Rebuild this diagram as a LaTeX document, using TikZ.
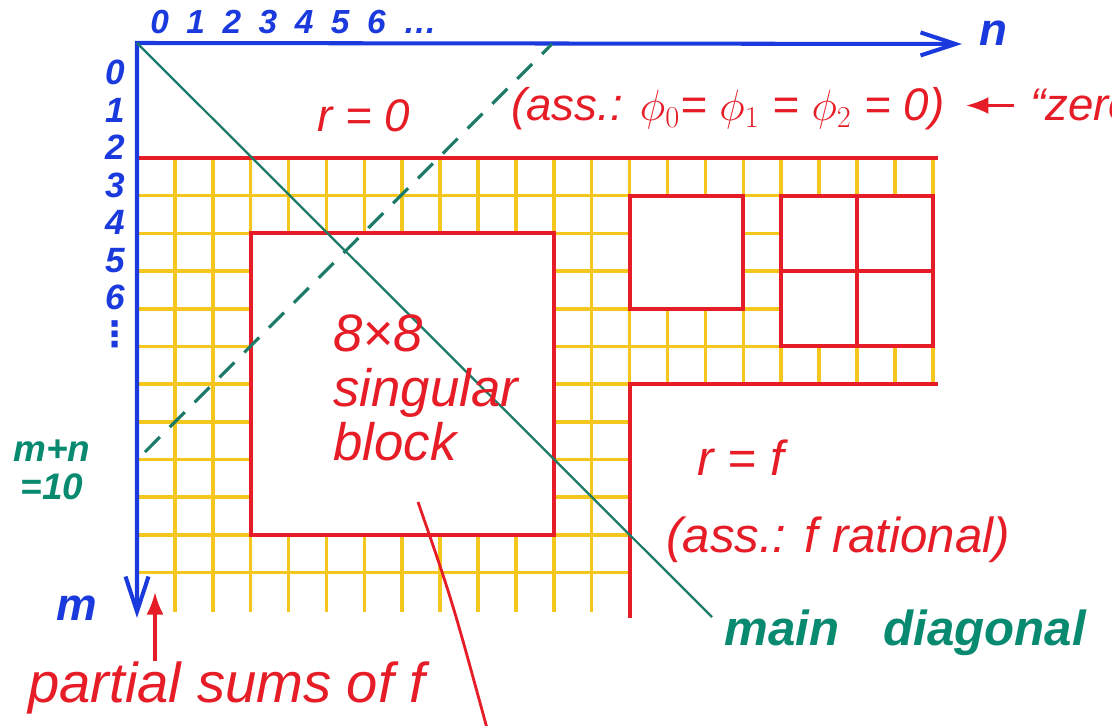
\documentclass[tikz,border=0pt]{standalone}
\usepackage{fontspec}
\setmainfont{Liberation Sans}
\newfontfamily\symfont{DejaVu Sans}
\usetikzlibrary{arrows.meta,positioning}

\definecolor{penblue}{RGB}{26,58,222}
\definecolor{penred}{RGB}{230,28,38}
\definecolor{pengold}{RGB}{244,198,30}
\definecolor{diagteal}{RGB}{28,122,104}
\definecolor{textteal}{RGB}{8,138,112}

\newcommand{\handfont}[2]{\fontsize{#1}{#2}\selectfont\itshape}

\begin{document}
\begin{tikzpicture}[
  x=0.02cm, y=-0.02cm,
  node distance=0.3cm and 0.5cm,
  axis/.style={draw=penblue, line width=2.3pt,
    arrows={Straight Barb[length=7mm, width=4.6mm]-Straight Barb[length=7mm, width=4.6mm]}},
  gridline/.style={draw=pengold, line width=2pt},
  redline/.style={draw=penred, line width=2.3pt},
  mainline/.style={draw=diagteal, line width=1.3pt},
  antiline/.style={draw=diagteal, line width=1.8pt, dash pattern=on 12pt off 8pt},
  redarrow/.style={draw=penred, line width=1.8pt, -{Latex[length=4.5mm, width=3.4mm]}},
  pointer/.style={draw=penred, line width=1.6pt},
  redtxt/.style={text=penred, inner sep=0pt},
  bluetxt/.style={text=penblue, inner sep=0pt},
  tealtxt/.style={text=textteal, inner sep=0pt}
]
\useasboundingbox (0,0) rectangle (1112,726);
\fill[white] (0,0) rectangle (1112,726);

\begin{scope}[shift={(137,158)}, x=0.758cm, y=0.754cm, yscale=-1]
  \draw[gridline] (0,0) grid[xstep=0.758cm, ystep=30cm] (21.02,12.05);
  \draw[gridline] (0,0) grid[xstep=30cm, ystep=0.754cm] (21.02,11.2);
  \fill[white] (3,2) rectangle (11,10);
  \fill[white] (13,1) rectangle (16,4);
  \fill[white] (17,1) rectangle (21,5);
  \fill[white] (13,6) rectangle (21.6,12.4);
  \draw[redline] (0,0) -- (21.15,0);
  \draw[redline] (3,2) rectangle (11,10);
  \draw[redline] (13,1) rectangle (16,4);
  \draw[redline] (17,1) rectangle (21,5) (19,1) -- (19,5) (17,3) -- (21,3);
  \draw[redline] (13,12.2) -- (13,6) -- (21.15,6);
\end{scope}

\coordinate (orig) at (137,43);
\coordinate (ntip) at (962,44);
\coordinate (mtip) at (137,618);
\draw[axis] (mtip) -- (orig) -- (ntip);

\coordinate (dend) at (712,617);
\draw[mainline] (orig) -- (dend);
\coordinate (alo) at (145,452);
\coordinate (ahi) at (552,44);
\draw[antiline] (alo) -- (ahi);

\node[bluetxt, font=\handfont{19}{22}\bfseries, anchor=base west] (colnum) at (150,34) {\spaceskip=10pt\relax 0 1 2 3 4 5 6 \dots};
\node[bluetxt, font=\handfont{20}{21.3}\bfseries, align=center, anchor=north] (rownum) at (115,60) {0\\1\\2\\3\\4\\5\\6\\{\symfont ⋮}};
\node[bluetxt, font=\handfont{26}{30}\bfseries, anchor=base] (nlab) at (993,46) {n};
\node[bluetxt, font=\handfont{26}{30}\bfseries, anchor=base] (mlab) at (77,620) {m};

\node[redtxt, font=\handfont{26}{30}] (rzero) at (364,116) {r = 0};
\node[redtxt, font=\handfont{26}{30}, anchor=base west] (ass) at (511,121) {(ass.: $\phi_0$= $\phi_1$ = $\phi_2$ = 0)};
\node[redtxt, font=\handfont{26}{30}, base right=1.7cm of ass] (zero) {``zero};
\draw[redarrow, shorten <=9pt, shorten >=12pt] (zero.west) -- (zero.west -| ass.east);

\node[redtxt, font=\handfont{30}{31}, align=left, anchor=west] (blk) at (333,388) {8×8\\singular\\block};
\node[redtxt, font=\handfont{28}{30}] (rf) at (741,458) {r = f};
\node[redtxt, font=\handfont{28}{30}, anchor=base west] (assf) at (666,552) {(ass.: f rational)};
\node[tealtxt, font=\handfont{28}{30}\bfseries, anchor=base west] (mdiag) at (724,645) {main\hspace{0.9em}diagonal};
\node[tealtxt, font=\handfont{21}{22}\bfseries, align=center] (mn) at (52,470) {m+n\\=10};
\node[redtxt, font=\handfont{32}{34}, anchor=base west] (psum) at (28,702) {partial sums of f};

\coordinate (ptip) at (155,592);
\draw[redarrow] (psum.north -| ptip) -- (ptip);

\coordinate (cstart) at (418,502);
\coordinate (cend) at (488,732);
\draw[pointer] (cstart) .. controls (452,600) .. (cend);
\end{tikzpicture}
\end{document}
